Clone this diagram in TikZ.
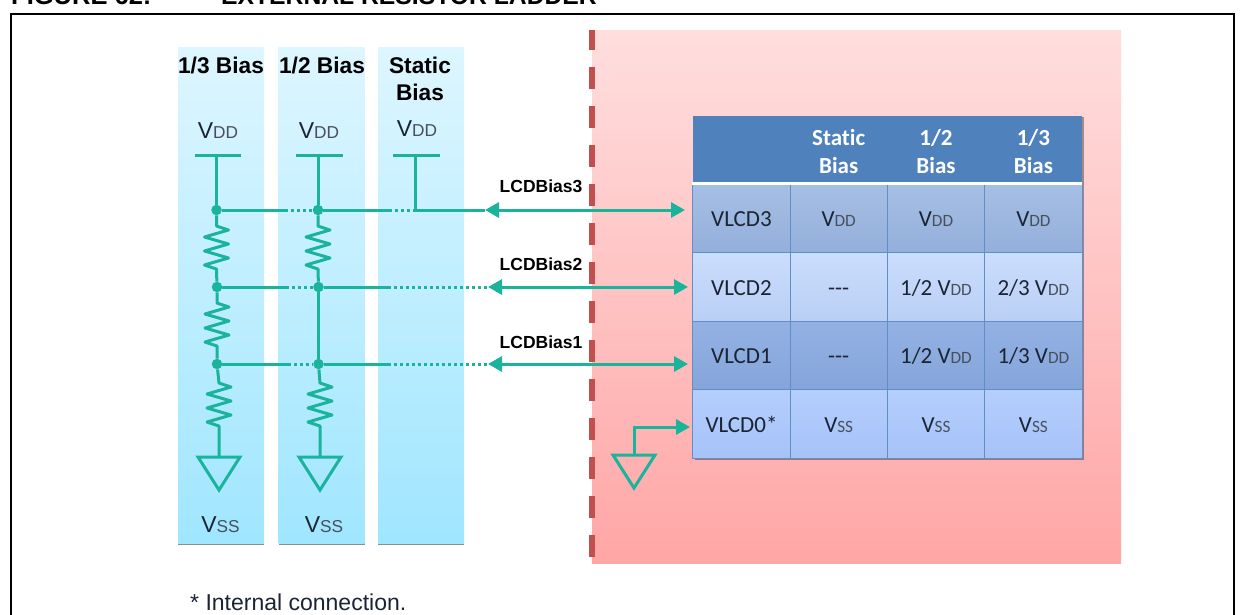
\documentclass[tikz,border=0pt]{standalone}
\usepackage{fontspec}
\setmainfont{Liberation Sans}
\newfontfamily\tablefont[Ligatures=NoCommon]{Carlito}
\usetikzlibrary{arrows.meta,shadows}

\definecolor{wire}{HTML}{1AB39B}
\definecolor{frontier}{HTML}{C0504D}
\definecolor{headblue}{HTML}{4F81BD}
\definecolor{textdark}{HTML}{1A2433}
\definecolor{coltop}{HTML}{DDF6FF}
\definecolor{colbot}{HTML}{A0E6FF}
\definecolor{pinktop}{HTML}{FFDEDE}
\definecolor{pinkbot}{HTML}{FFA6A6}
\definecolor{rowAt}{HTML}{A6BFE4}
\definecolor{rowAb}{HTML}{94AFDB}
\definecolor{rowBt}{HTML}{CADDFD}
\definecolor{rowBb}{HTML}{BACFF5}
\definecolor{rowCt}{HTML}{93B1E3}
\definecolor{rowCb}{HTML}{85A5DA}
\definecolor{rowDt}{HTML}{B4CEFC}
\definecolor{rowDb}{HTML}{A6C3F8}

\newcommand{\vsub}[2]{#1\scalebox{0.75}{\color{textdark!80}#2}}

\tikzset{
    biascol/.style={minimum width=86, minimum height=496, inner sep=0,
        top color=coltop, bottom color=colbot,
        drop shadow={shadow xshift=0, shadow yshift=2, opacity=.45, fill=black}},
    coltitle/.style={font=\bfseries\fontsize{22.7}{26}\selectfont, text=black, inner sep=0},
    rail/.style={font=\fontsize{23}{26}\selectfont, text=textdark, inner sep=0},
    biaslabel/.style={font=\bfseries\fontsize{17.5}{20}\selectfont, text=black, inner sep=0},
    dot/.style={circle, fill=wire, inner sep=0, minimum size=10.5},
    wireline/.style={draw=wire, line width=3},
    sigarrow/.style={draw=wire, line width=3, {Triangle[length=14,width=15]}-{Triangle[length=14,width=15]}},
    dots/.style={draw=wire, line width=3, dash pattern=on 2.5 off 3.5},
    cell/.style={minimum width=97.3, minimum height=68.7, inner sep=0, draw=headblue!90, line width=.8,
        text height=16.5, text depth=0, font=\tablefont\fontsize{23}{26}\selectfont, text=textdark},
    headtext/.style={inner sep=0, align=center, text=white,
        font=\tablefont\bfseries\fontsize{23}{27.7}\selectfont},
    footer/.style={inner sep=0, font=\fontsize{23}{26}\selectfont, text=textdark},
}

\begin{document}
\begin{tikzpicture}[x=1pt,y=-1pt]
\useasboundingbox (0,0) rectangle (1244,614);
\begin{scope}
\clip (0,0) rectangle (1244,614);
\node[anchor=base west, inner sep=0, font=\bfseries\fontsize{25.5}{28}\selectfont] (figno) at (11,4.5) {FIGURE 62:};
\node[anchor=base west, inner sep=0, font=\bfseries\fontsize{24.7}{28}\selectfont] (figtitle) at (221,4.5) {EXTERNAL RESISTOR LADDER};
\draw[line width=2.6] (11,640) -- (11,14) -- (1234,14) -- (1234,640);
\node[footer, anchor=base west] (note) at (190,610) {* Internal connection.};
\end{scope}

% chip side
\fill[top color=pinktop, bottom color=pinkbot] (592,30) rectangle (1121,563);
\draw[frontier, line width=5.5, dash pattern=on 22 off 17, dash phase=2] (592,30) -- (592,560);

% bias columns
\node[biascol] (col1) at (221,295) {};
\node[biascol] (col2) at (321.5,295) {};
\node[biascol] (col3) at (421,295) {};

\node[coltitle, anchor=base] (title1) at (221,73) {1/3 Bias};
\node[coltitle, anchor=base] (title2) at (322,73) {1/2 Bias};
\node[coltitle, anchor=base] (title3a) at (420,73) {Static};
\node[coltitle, anchor=base] (title3b) at (420,100.5) {Bias};

\node[rail, anchor=base] (vdd1) at (218,138) {\vsub{V}{DD}};
\node[rail, anchor=base] (vdd2) at (319,138) {\vsub{V}{DD}};
\node[rail, anchor=base] (vdd3) at (417,136) {\vsub{V}{DD}};
\node[rail, anchor=base] (vss1) at (220.5,532) {\vsub{V}{SS}};
\node[rail, anchor=base] (vss2) at (324,532) {\vsub{V}{SS}};

% table
\node[fill=headblue, minimum width=389, minimum height=343, inner sep=0,
      drop shadow={shadow xshift=1.5, shadow yshift=1.5, opacity=.35, fill=black}] (tbl) at (887.5,287) {};
\node[headtext] (hstatic) at (838.7,151.5) {Static\\Bias};
\node[headtext] (hhalf) at (936,151.5) {1/2\\Bias};
\node[headtext] (hthird) at (1033.4,151.5) {1/3\\Bias};

\foreach \r/\y/\ct/\cb/\name/\sa/\sb/\sc in {
    3/218/rowAt/rowAb/VLCD3/{\vsub{V}{DD}}/{\vsub{V}{DD}}/{\vsub{V}{DD}},
    2/287/rowBt/rowBb/VLCD2/{{-}{-}{-}}/{1/2 \vsub{V}{DD}}/{2/3 \vsub{V}{DD}},
    1/355.5/rowCt/rowCb/VLCD1/{{-}{-}{-}}/{1/2 \vsub{V}{DD}}/{1/3 \vsub{V}{DD}},
    0/424/rowDt/rowDb/VLCD0*/{\vsub{V}{SS}}/{\vsub{V}{SS}}/{\vsub{V}{SS}}}{
    \node[cell, top color=\ct, bottom color=\cb] (lcd\r) at (741.5,\y) {\name};
    \node[cell, top color=\ct, bottom color=\cb] (sta\r) at (838.7,\y) {\sa};
    \node[cell, top color=\ct, bottom color=\cb] (hal\r) at (936,\y) {\sb};
    \node[cell, top color=\ct, bottom color=\cb] (thi\r) at (1033.4,\y) {\sc};
}
\draw[white, line width=2.5] (lcd3.north west) -- (thi3.north east);

% rails
\coordinate (bar1l) at (195,155);
\coordinate (bar1r) at (241,155);
\coordinate (bar2l) at (296,155);
\coordinate (bar2r) at (343,155);
\coordinate (bar3l) at (393,155);
\coordinate (bar3r) at (440,155);
\draw[wireline] (bar1l) -- (bar1r);
\draw[wireline] (bar2l) -- (bar2r);
\draw[wireline] (bar3l) -- (bar3r);

\node[dot] (n13) at (216.5,210) {};
\node[dot] (n12) at (217,287) {};
\node[dot] (n11) at (217,364) {};
\node[dot] (n23) at (318,210) {};
\node[dot] (n22) at (318.5,287) {};
\node[dot] (n21) at (318.5,364) {};
\coordinate (stat) at (415,210);
\coordinate (g1) at (219,457);
\coordinate (g2) at (320,457);

\draw[wireline] (216.5,155) -- (n13);
\draw[wireline] (318,155) -- (n23);
\draw[wireline] (415,155) -- (stat);
\draw[wireline] (n22) -- (n21);

% resistors
\foreach \xa/\ya/\from/\to in {216.5/226/n13/n12, 217/303/n12/n11, 219/383/n11/g1,
                               318/226/n23/n22, 320/383/n21/g2}{
    \draw[wireline, line join=round] (\from) -- (\xa,\ya) -- ++(12,4) -- ++(-24,7) -- ++(24,7) -- ++(-24,7)
        -- ++(24,7) -- ++(-24,7) -- ++(12,4) -- (\to);
}

% grounds
\draw[wireline] (g1) -- ++(-21,0) -- ++(21,33) -- ++(21,-33) -- cycle;
\draw[wireline] (g2) -- ++(-21,0) -- ++(21,33) -- ++(21,-33) -- cycle;
\coordinate (g3) at (634,455);
\draw[wireline] (g3) -- ++(-21,0) -- ++(21,33) -- ++(21,-33) -- cycle;
\coordinate (in0) at (690,427);
\draw[wireline, -{Triangle[length=14,width=15]}] (g3) |- (in0);

% signals
\foreach \r/\y/\bra/\brb/\tipl/\tipr in {3/210/285/389/485/685, 2/287/286/388/488/688, 1/364/288/388/488/688}{
    \coordinate (a\r) at (\bra,\y);
    \coordinate (b\r) at (\brb,\y);
    \coordinate (l\r) at (\tipl,\y);
    \coordinate (r\r) at (\tipr,\y);
    \draw[wireline] (n1\r) -- (a\r);
    \draw[dots] (a\r) -- (n2\r);
    \draw[wireline] (n2\r) -- (b\r);
    \draw[sigarrow] (l\r) -- (r\r);
}
\draw[dots] (b3) -- (stat);
\draw[wireline] (stat) -- (l3);
\draw[dots] (b2) -- (l2);
\draw[dots] (b1) -- (l1);

\node[biaslabel, anchor=base] (bias3) at (541,192) {LCDBias3};
\node[biaslabel, anchor=base] (bias2) at (541,270) {LCDBias2};
\node[biaslabel, anchor=base] (bias1) at (541,348) {LCDBias1};
\end{tikzpicture}
\end{document}
